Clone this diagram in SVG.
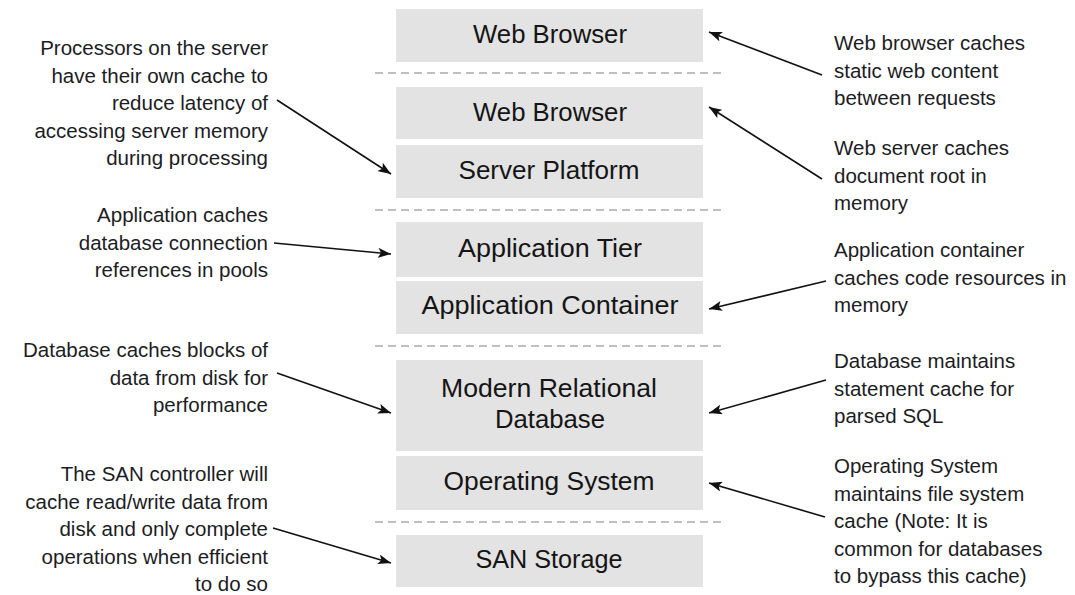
<svg xmlns="http://www.w3.org/2000/svg" width="1075" height="595" viewBox="0 0 1075 595">
<defs>
<style>
.box{fill:#e3e3e3;}
.t{font-family:"Liberation Sans",Arial,sans-serif;font-size:25px;fill:#151515;text-anchor:middle;}
.a{font-family:"Liberation Sans",Arial,sans-serif;font-size:20.5px;fill:#1c1c24;}
.l{text-anchor:end;}
.sep{stroke:#ababab;stroke-width:1.6;stroke-dasharray:8 5;fill:none;}
.arr{stroke:#111;stroke-width:1.6;fill:none;marker-end:url(#ah);}
</style>
<marker id="ah" markerUnits="userSpaceOnUse" markerWidth="14" markerHeight="10" refX="13" refY="5" orient="auto">
<path d="M0,0 L13,5 L0,10 L3,5 Z" fill="#111"/>
</marker>
</defs>
<rect width="1075" height="595" fill="#fff"/>
<g id="separators">
<line class="sep" x1="375" y1="73" x2="724" y2="73"/>
<line class="sep" x1="375" y1="210" x2="724" y2="210"/>
<line class="sep" x1="375" y1="346" x2="724" y2="346"/>
<line class="sep" x1="375" y1="522" x2="724" y2="522"/>
</g>
<g id="node-web-browser-client">
<rect class="box" x="396" y="9" width="307" height="53"/>
<text class="t" x="550" y="43" textLength="154" lengthAdjust="spacingAndGlyphs">Web Browser</text>
</g>
<g id="node-web-browser-server">
<rect class="box" x="396" y="87" width="307" height="52"/>
<text class="t" x="550" y="121" textLength="154" lengthAdjust="spacingAndGlyphs">Web Browser</text>
</g>
<g id="node-server-platform">
<rect class="box" x="396" y="145" width="307" height="53"/>
<text class="t" x="549" y="179" textLength="181" lengthAdjust="spacingAndGlyphs">Server Platform</text>
</g>
<g id="node-application-tier">
<rect class="box" x="396" y="222" width="307" height="55"/>
<text class="t" x="550" y="257" textLength="184" lengthAdjust="spacingAndGlyphs">Application Tier</text>
</g>
<g id="node-application-container">
<rect class="box" x="396" y="281" width="307" height="53"/>
<text class="t" x="550" y="314" textLength="257" lengthAdjust="spacingAndGlyphs">Application Container</text>
</g>
<g id="node-database">
<rect class="box" x="396" y="360" width="307" height="91"/>
<text class="t" x="549" y="397" textLength="216" lengthAdjust="spacingAndGlyphs">Modern Relational</text>
<text class="t" x="550" y="428" textLength="110" lengthAdjust="spacingAndGlyphs">Database</text>
</g>
<g id="node-operating-system">
<rect class="box" x="396" y="456" width="307" height="54"/>
<text class="t" x="549" y="490" textLength="211" lengthAdjust="spacingAndGlyphs">Operating System</text>
</g>
<g id="node-san-storage">
<rect class="box" x="396" y="535" width="307" height="52"/>
<text class="t" x="549" y="568" textLength="147" lengthAdjust="spacingAndGlyphs">SAN Storage</text>
</g>
<g id="note-processors">
<text class="a l" x="268" y="55">Processors on the server</text>
<text class="a l" x="268" y="82.5">have their own cache to</text>
<text class="a l" x="268" y="110">reduce latency of</text>
<text class="a l" x="268" y="137.5">accessing server memory</text>
<text class="a l" x="268" y="165">during processing</text>
</g>
<g id="note-app-pools">
<text class="a l" x="268" y="222">Application caches</text>
<text class="a l" x="268" y="249.5">database connection</text>
<text class="a l" x="268" y="277">references in pools</text>
</g>
<g id="note-db-blocks">
<text class="a l" x="268" y="357">Database caches blocks of</text>
<text class="a l" x="268" y="384.5">data from disk for</text>
<text class="a l" x="268" y="412">performance</text>
</g>
<g id="note-san">
<text class="a l" x="268" y="481">The SAN controller will</text>
<text class="a l" x="268" y="508.5">cache read/write data from</text>
<text class="a l" x="268" y="536">disk and only complete</text>
<text class="a l" x="268" y="563.5">operations when efficient</text>
<text class="a l" x="268" y="591">to do so</text>
</g>
<g id="note-browser-cache">
<text class="a" x="834" y="50">Web browser caches</text>
<text class="a" x="834" y="77.5">static web content</text>
<text class="a" x="834" y="105">between requests</text>
</g>
<g id="note-webserver-cache">
<text class="a" x="834" y="155">Web server caches</text>
<text class="a" x="834" y="182.5">document root in</text>
<text class="a" x="834" y="210">memory</text>
</g>
<g id="note-container-cache">
<text class="a" x="834" y="257">Application container</text>
<text class="a" x="834" y="284.5">caches code resources in</text>
<text class="a" x="834" y="312">memory</text>
</g>
<g id="note-statement-cache">
<text class="a" x="834" y="368">Database maintains</text>
<text class="a" x="834" y="395.5">statement cache for</text>
<text class="a" x="834" y="423">parsed SQL</text>
</g>
<g id="note-os-cache">
<text class="a" x="834" y="473">Operating System</text>
<text class="a" x="834" y="500.5">maintains file system</text>
<text class="a" x="834" y="528">cache (Note: It is</text>
<text class="a" x="834" y="555.5">common for databases</text>
<text class="a" x="834" y="583">to bypass this cache)</text>
</g>
<g id="connectors">
<line class="arr" x1="822" y1="75" x2="709" y2="32"/>
<line class="arr" x1="822" y1="179" x2="709" y2="107"/>
<line class="arr" x1="277" y1="100" x2="391" y2="174"/>
<line class="arr" x1="274" y1="243" x2="391" y2="254"/>
<line class="arr" x1="826" y1="281" x2="709" y2="309"/>
<line class="arr" x1="277" y1="373" x2="391" y2="413"/>
<line class="arr" x1="826" y1="380" x2="709" y2="413"/>
<line class="arr" x1="825" y1="517" x2="709" y2="483"/>
<line class="arr" x1="273" y1="528" x2="391" y2="563"/>
</g>
</svg>
